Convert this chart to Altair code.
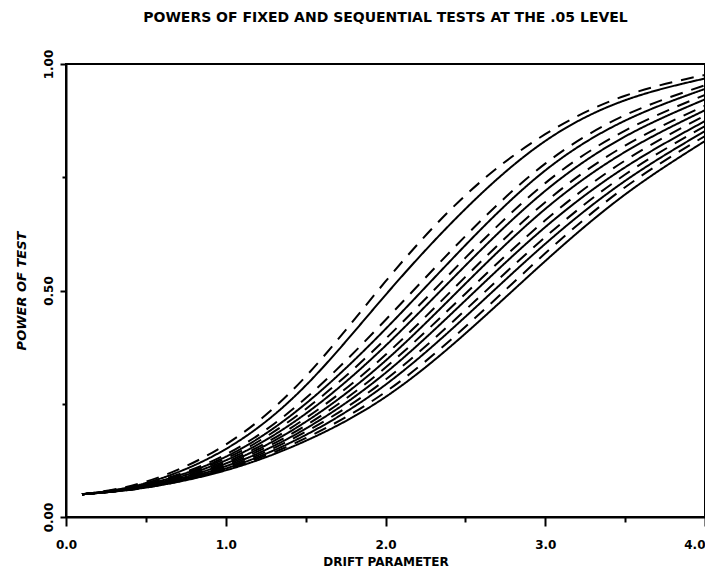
import altair as alt
import pandas as pd

# Drift parameter values at which the curves are read
drift = [0.1, 0.5, 1.0, 1.5, 2.0, 2.5, 3.0, 3.5, 4.0]

# Solid curves (fixed tests) and dashed curves (sequential tests), top to bottom
solid_1 = [0.05, 0.075, 0.150, 0.290, 0.490, 0.680, 0.830, 0.920, 0.968]
dashed_1 = [0.05, 0.078, 0.160, 0.310, 0.520, 0.710, 0.845, 0.930, 0.976]
solid_2 = [0.05, 0.072, 0.133, 0.250, 0.415, 0.600, 0.765, 0.875, 0.945]
dashed_2 = [0.05, 0.073, 0.138, 0.262, 0.435, 0.620, 0.780, 0.887, 0.953]
solid_3 = [0.05, 0.070, 0.125, 0.228, 0.378, 0.555, 0.720, 0.840, 0.922]
dashed_3 = [0.05, 0.071, 0.129, 0.238, 0.393, 0.572, 0.737, 0.853, 0.932]
solid_4 = [0.05, 0.068, 0.118, 0.210, 0.345, 0.515, 0.680, 0.806, 0.898]
dashed_4 = [0.05, 0.069, 0.121, 0.218, 0.358, 0.530, 0.695, 0.820, 0.908]
solid_5 = [0.05, 0.067, 0.112, 0.195, 0.318, 0.478, 0.640, 0.772, 0.874]
dashed_5 = [0.05, 0.067, 0.115, 0.202, 0.330, 0.493, 0.655, 0.787, 0.886]
solid_6 = [0.05, 0.066, 0.107, 0.181, 0.292, 0.442, 0.603, 0.742, 0.852]
dashed_6 = [0.05, 0.066, 0.109, 0.188, 0.303, 0.457, 0.618, 0.756, 0.863]
solid_7 = [0.05, 0.065, 0.103, 0.168, 0.265, 0.405, 0.565, 0.712, 0.830]
dashed_7 = [0.05, 0.065, 0.105, 0.174, 0.276, 0.420, 0.582, 0.728, 0.841]

series = {
    "S1": ("solid", solid_1), "D1": ("dashed", dashed_1),
    "S2": ("solid", solid_2), "D2": ("dashed", dashed_2),
    "S3": ("solid", solid_3), "D3": ("dashed", dashed_3),
    "S4": ("solid", solid_4), "D4": ("dashed", dashed_4),
    "S5": ("solid", solid_5), "D5": ("dashed", dashed_5),
    "S6": ("solid", solid_6), "D6": ("dashed", dashed_6),
    "S7": ("solid", solid_7), "D7": ("dashed", dashed_7),
}

x_major = [0, 1, 2, 3, 4]
x_minor = [0.5, 1.5, 2.5, 3.5]
y_major = [0, 0.5, 1.0]
y_minor = [0.25, 0.75]

rows = []
for name, (style, vals) in series.items():
    for d, p in zip(drift, vals):
        rows.append({"series": name, "style": style, "drift": d, "power": p})
df = pd.DataFrame(rows)

FONT = "DejaVu Sans"
xscale = alt.Scale(domain=[0, 4], nice=False, zero=False)
yscale = alt.Scale(domain=[0, 1], nice=False, zero=False)

lines = alt.Chart(df).mark_line(
    color="black", strokeWidth=2, interpolate="natural", clip=True
).encode(
    x=alt.X("drift:Q", scale=xscale,
            axis=alt.Axis(values=x_major, format=".1f", title="DRIFT PARAMETER",
                          orient="bottom", grid=False, tickSize=9, tickWidth=2,
                          tickColor="black", domainColor="black", domainWidth=2,
                          labelFlush=False, labelOverlap=False,
                          labelAlign={"condition": {"test": "datum.value >= 4",
                                                    "value": "right"},
                                      "value": "center"},
                          labelFont=FONT, labelFontSize=12, labelFontWeight="bold",
                          labelColor="black", labelPadding=13,
                          titleFont=FONT, titleFontSize=12, titleFontWeight="bold",
                          titleColor="black", titlePadding=6)),
    y=alt.Y("power:Q", scale=yscale,
            axis=alt.Axis(values=y_major, format=".2f", title="POWER OF TEST",
                          orient="left", grid=False, tickSize=6, tickWidth=2,
                          tickColor="black", domainColor="black", domainWidth=2,
                          labelFlush=False, labelOverlap=False,
                          labelAngle=270, labelAlign="center", labelBaseline="bottom",
                          labelFont=FONT, labelFontSize=12, labelFontWeight="bold",
                          labelColor="black", labelPadding=5,
                          titleFont=FONT, titleFontSize=13, titleFontWeight="bold",
                          titleFontStyle="italic", titleColor="black",
                          titlePadding=14)),
    detail="series:N",
    strokeDash=alt.StrokeDash("style:N",
                              scale=alt.Scale(domain=["solid", "dashed"],
                                              range=[[1, 0], [13, 9]]),
                              legend=None),
)

minor_df = pd.DataFrame({"drift": [0.5], "power": [0.5]})
minor = alt.Chart(minor_df).mark_point(opacity=0).encode(
    x=alt.X("drift:Q", scale=xscale,
            axis=alt.Axis(values=x_minor, orient="bottom", labels=False, title=None,
                          grid=False, domain=False, tickSize=5, tickWidth=2,
                          tickColor="black")),
    y=alt.Y("power:Q", scale=yscale,
            axis=alt.Axis(values=y_minor, orient="left", labels=False, title=None,
                          grid=False, domain=False, tickSize=4, tickWidth=2,
                          tickColor="black")),
)

chart = alt.layer(lines, minor).resolve_axis(x="independent", y="independent").properties(
    width=639,
    height=453,
    autosize=alt.AutoSizeParams(type="none"),
    padding={"left": 58, "top": 56, "right": 0, "bottom": 51},
    title=alt.TitleParams("POWERS OF FIXED AND SEQUENTIAL TESTS AT THE .05 LEVEL",
                          font=FONT, fontSize=14, fontWeight="bold", color="black",
                          anchor="middle", offset=24),
).configure_view(stroke="black", strokeWidth=2)

chart.save("out.html", embed_options={"renderer": "svg", "actions": False})
